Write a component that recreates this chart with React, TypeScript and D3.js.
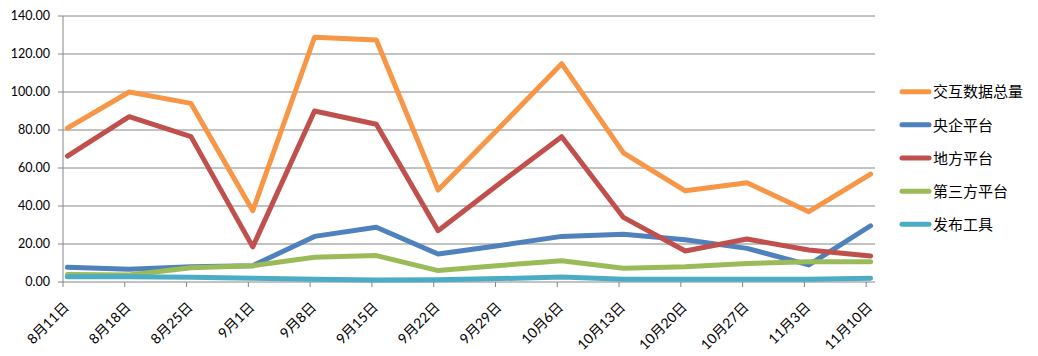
import React from "react";
import * as d3 from "d3";

const categories = ["8月11日","8月18日","8月25日","9月1日","9月8日","9月15日","9月22日","9月29日","10月6日","10月13日","10月20日","10月27日","11月3日","11月10日"];
const dates = ["2014-08-11","2014-08-18","2014-08-25","2014-09-01","2014-09-08","2014-09-15","2014-09-22","2014-09-29","2014-10-06","2014-10-13","2014-10-20","2014-10-27","2014-11-03","2014-11-10"];

const totalData = [81, 100, 94, 37.5, 128.8, 127.4, 48.4, 81.5, 114.9, 68, 48, 52.2, 37, 56.8];
const centralData = [7.7, 6.7, 8, 8.6, 24, 28.8, 14.7, 19.2, 24, 25.1, 22.2, 17.7, 9, 29.6];
const localData = [66.3, 87, 76.5, 18.5, 90, 83, 27, 52, 76.5, 34, 16.3, 22.6, 16.8, 13.7];
const thirdData = [3.9, 3.7, 7.5, 8.6, 13, 13.9, 6, 8.7, 11.2, 7.2, 8, 9.8, 10.7, 10.7];
const toolData = [2.8, 2.8, 2.5, 2, 1.5, 1, 1.2, 1.8, 2.6, 1.5, 1.5, 1.4, 1.4, 2];

const seriesNames = ["交互数据总量","央企平台","地方平台","第三方平台","发布工具"];
const seriesColors = ["#F79646","#4F81BD","#C0504D","#9BBB59","#4BACC6"];
const seriesData = [totalData, centralData, localData, thirdData, toolData];
const yTicks = [0, 20, 40, 60, 80, 100, 120, 140];

const W = 1038, H = 356;
const left = 63, right = 875, top = 16, bottom = 282;

export default function App() {
  const parse = d3.timeParse("%Y-%m-%d");
  const d0 = parse(dates[0])!;
  const dEnd = d3.timeDay.offset(parse(dates[dates.length - 1])!, 1);
  const x = d3.scaleTime().domain([d0, dEnd]).range([left, right]);
  const y = d3.scaleLinear().domain([0, 140]).range([bottom, top]);
  const mid = (s: string) => d3.timeHour.offset(parse(s)!, 12);

  const line = d3.line<number>()
    .x((_, i) => x(mid(dates[i])))
    .y((v) => y(v));

  const font = "Lato, 'Noto Sans CJK SC', sans-serif";
  const grid = "#868686";

  return (
    <svg width={W} height={H} style={{ position: "absolute", left: 0, top: 0, background: "#fff" }}>
      {yTicks.map((t) => (
        <g key={t}>
          {t > 0 && <line x1={left} x2={right} y1={y(t)} y2={y(t)} stroke={grid} strokeWidth={1} />}
          <line x1={left - 5} x2={left} y1={y(t)} y2={y(t)} stroke={grid} strokeWidth={1} />
          <text x={left - 13} y={y(t)} dy="0.35em" textAnchor="end" fontFamily={font} fontSize={12.5} fill="#000">
            {t.toFixed(2)}
          </text>
        </g>
      ))}
      <line x1={left} x2={left} y1={top} y2={bottom} stroke={grid} strokeWidth={1} />
      <line x1={left} x2={right} y1={bottom} y2={bottom} stroke={grid} strokeWidth={1} />
      {dates.map((d, i) => {
        const tx = x(parse(d)!);
        return (
          <g key={d}>
            <line x1={tx} x2={tx} y1={bottom} y2={bottom + 5} stroke={grid} strokeWidth={1} />
            <text
              transform={`translate(${tx + 7},${bottom + 26}) rotate(-45)`}
              textAnchor="end"
              fontFamily={font}
              fontSize={14}
              fill="#000"
            >
              {categories[i]}
            </text>
          </g>
        );
      })}
      {seriesData.map((s, k) => (
        <path key={k} d={line(s) || ""} fill="none" stroke={seriesColors[k]} strokeWidth={5} strokeLinejoin="round" strokeLinecap="round" />
      ))}
      {seriesNames.map((n, k) => {
        const ly = 91.7 + k * 33.15;
        return (
          <g key={n}>
            <line x1={902} x2={929} y1={ly} y2={ly} stroke={seriesColors[k]} strokeWidth={5} strokeLinecap="round" />
            <text x={933} y={ly} dy="0.38em" fontFamily="'Noto Sans CJK SC', sans-serif" fontSize={15} fill="#000">
              {n}
            </text>
          </g>
        );
      })}
    </svg>
  );
}
